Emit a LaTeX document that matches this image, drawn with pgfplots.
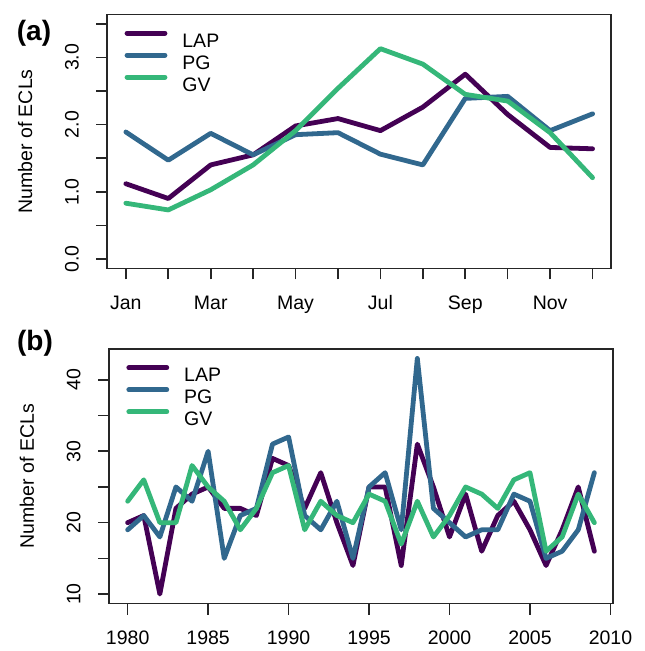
\documentclass[border=0pt]{standalone}
\usepackage{fontspec}
\setmainfont{Liberation Sans}
\usepackage{pgfplots}
\pgfplotsset{compat=1.18}
\definecolor{cLAP}{HTML}{440154}
\definecolor{cPG}{HTML}{31688E}
\definecolor{cGV}{HTML}{35B779}
\pgfplotsset{
  rstyle/.style={
    scale only axis, width=252pt,
    axis line style={black!85, line width=0.8pt},
    tick style={black!85, line width=0.8pt},
    tick align=outside, major tick length=5.5pt,
    tick pos=left,
    font=\fontsize{9.75}{11.7}\selectfont,
    /pgf/number format/assume math mode=true,
    yticklabel style={xshift=-8.5pt, rotate=90, anchor=south, inner sep=0pt},
    xticklabel style={anchor=north, inner sep=0pt, yshift=-8pt},
    ylabel style={at={(axis description cs:-0.163,0.5)}, anchor=center},
    legend cell align=left,
    legend style={at={(axis description cs:0,1)}, anchor=north west, xshift=8.5pt, yshift=-8pt,
      draw=none, fill=none, inner sep=0pt, row sep=2.8pt, column sep=7.5pt,
      nodes={inner sep=0pt, text height=7pt, text depth=0pt}},
    legend image code/.code={\draw[#1] (0pt,3.5pt) -- (19pt,3.5pt);},
    every axis plot/.append style={line width=2.4pt, line join=round, line cap=round},
  }
}
\begin{document}
\begin{tikzpicture}
\path[use as bounding box] (0,0) rectangle (322pt,-325.5pt);
\begin{axis}[rstyle, at={(53.6pt,-7.2pt)}, anchor=north west, height=127pt,
  xmin=0.56, xmax=12.44, ymin=-0.14, ymax=3.64,
  xtick={1,2,3,4,5,6,7,8,9,10,11,12},
  xticklabels={Jan,,Mar,,May,,Jul,,Sep,,Nov,},
  ytick={0,0.5,1,1.5,2,2.5,3,3.5},
  yticklabels={0.0,,1.0,,2.0,,3.0,},
  ylabel={Number of ECLs}]
\addplot[cLAP] coordinates {(1,1.12)(2,0.90)(3,1.40)(4,1.55)(5,1.98)(6,2.09)(7,1.91)(8,2.26)(9,2.75)(10,2.15)(11,1.66)(12,1.64)};
\addlegendentry{LAP}
\addplot[cPG] coordinates {(1,1.89)(2,1.47)(3,1.87)(4,1.55)(5,1.85)(6,1.88)(7,1.56)(8,1.40)(9,2.39)(10,2.42)(11,1.91)(12,2.16)};
\addlegendentry{PG}
\addplot[cGV] coordinates {(1,0.83)(2,0.73)(3,1.03)(4,1.40)(5,1.91)(6,2.54)(7,3.13)(8,2.90)(9,2.45)(10,2.35)(11,1.88)(12,1.21)};
\addlegendentry{GV}
\end{axis}
\begin{axis}[rstyle, at={(54.5pt,-174.5pt)}, anchor=north west, height=127.25pt,
  xmin=1978.84, xmax=2010.16, ymin=8.68, ymax=44.32,
  xtick={1980,1985,1990,1995,2000,2005,2010},
  xticklabels={1980,1985,1990,1995,2000,2005,2010},
  ytick={10,15,20,25,30,35,40},
  yticklabels={10,,20,,30,,40},
  ylabel={Number of ECLs}]
\addplot[cLAP] coordinates {(1980,20)(1981,21)(1982,10)(1983,22)(1984,24)(1985,25)(1986,22)(1987,22)(1988,21)(1989,29)(1990,28)(1991,22)(1992,27)(1993,20)(1994,14)(1995,25)(1996,25)(1997,14)(1998,31)(1999,25)(2000,18)(2001,24)(2002,16)(2003,21)(2004,23)(2005,19)(2006,14)(2007,19)(2008,25)(2009,16)};
\addlegendentry{LAP}
\addplot[cPG] coordinates {(1980,19)(1981,21)(1982,18)(1983,25)(1984,23)(1985,30)(1986,15)(1987,21)(1988,22)(1989,31)(1990,32)(1991,21)(1992,19)(1993,23)(1994,15)(1995,25)(1996,27)(1997,19)(1998,43)(1999,22)(2000,20)(2001,18)(2002,19)(2003,19)(2004,24)(2005,23)(2006,15)(2007,16)(2008,19)(2009,27)};
\addlegendentry{PG}
\addplot[cGV] coordinates {(1980,23)(1981,26)(1982,20)(1983,20)(1984,28)(1985,25)(1986,23)(1987,19)(1988,22)(1989,27)(1990,28)(1991,19)(1992,23)(1993,21)(1994,20)(1995,24)(1996,23)(1997,17)(1998,23)(1999,18)(2000,21)(2001,25)(2002,24)(2003,22)(2004,26)(2005,27)(2006,16)(2007,18)(2008,24)(2009,20)};
\addlegendentry{GV}
\end{axis}
\node[font=\fontsize{14}{16}\selectfont\bfseries] at (17pt,-16.75pt) {(a)};
\node[font=\fontsize{14}{16}\selectfont\bfseries] at (17.5pt,-171.5pt) {(b)};
\end{tikzpicture}
\end{document}
